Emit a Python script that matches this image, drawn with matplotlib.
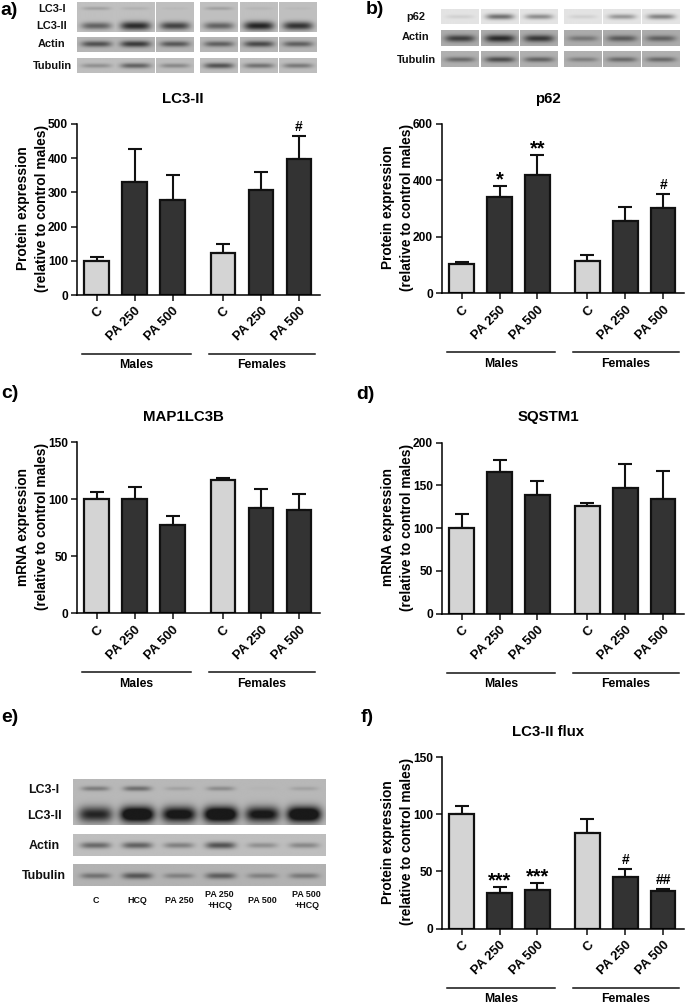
import matplotlib
matplotlib.use('Agg')
import matplotlib.pyplot as plt
import numpy as np

plt.rcParams['font.family'] = ['Liberation Sans', 'DejaVu Sans']
plt.rcParams['font.weight'] = 'bold'

W, H = 685, 1005

# bar data
bar_labels = ['C', 'PA 250', 'PA 500', 'C', 'PA 250', 'PA 500']

lc3_vals = [100, 330, 278, 124, 306, 398]
lc3_tops = [112, 426, 351, 150, 360, 464]
p62_vals = [102, 340, 417, 115, 257, 303]
p62_tops = [110, 380, 489, 135, 305, 351]
map_vals = [100, 100, 77.5, 117, 92, 91]
map_tops = [106.5, 111, 85, 119, 109, 105]
sqs_vals = [100, 166, 139, 126, 147, 134]
sqs_tops = [117, 180, 155, 129, 175, 167]
flux_vals = [100, 31, 34, 84, 45, 33]
flux_tops = [107, 36, 40, 96, 52.5, 34.5]

# band strengths per lane (0 = nothing, 1 = darkest)
a_lc3i = [.2, .1, .05, .2, .07, .05]
a_lc3ii = [.6, .95, .8, .6, 1, .9]
a_actin = [.7, .85, .65, .6, .75, .6]
a_tub = [.3, .6, .35, .7, .5, .45]
b_p62 = [.1, .6, .45, .1, .4, .5]
b_actin = [.8, .95, .85, .4, .6, .55]
b_tub = [.5, .7, .55, .35, .5, .5]
e_lc3i = [.4, .5, .15, .3, .03, .15]
e_lc3ii = [1, 1.6, 1.3, 1.6, 1.2, 1.6]
e_actin = [.55, .6, .4, .7, .3, .35]
e_tub = [.45, .65, .35, .6, .35, .4]

fig = plt.figure(figsize=(W / 100, H / 100), dpi=100, facecolor='white')

# full figure axes in pixel coordinates, for blots and loose text
bg = fig.add_axes([0, 0, 1, 1])
bg.axis('off')


def strip(x0, x1, y0, y1, gray, bands):
    # bands: (centre x, centre y, half width, half height, strength)
    xs = np.linspace(x0, x1, int((x1 - x0) * 2))
    ys = np.linspace(y0, y1, int((y1 - y0) * 2))
    xx, yy = np.meshgrid(xs, ys)
    img = np.full(xx.shape, float(gray))
    for cx, cy, wx, wy, s in bands:
        wy = wy * (0.6 + 0.5 * min(s, 1))
        mask = np.exp(-((xx - cx) / wx) ** 4) * np.exp(-((yy - cy) / wy) ** 2)
        img -= mask * s * (gray - 35)
    img = np.clip(img, 25, 255)
    bg.imshow(img, extent=(x0, x1, y1, y0), cmap='gray', vmin=0, vmax=255,
              aspect='auto', interpolation='bilinear')


# a) blots
a_lanes = [(76.7, 115), (116, 154.3), (155.7, 193.7), (200.3, 238.3), (239.7, 277.3), (278.7, 316.7)]
for i, (x0, x1) in enumerate(a_lanes):
    c = (x0 + x1) / 2
    strip(x0, x1, 2, 32, 192, [(c, 8.3, 14, 2.5, a_lc3i[i]), (c, 26, 15, 4, a_lc3ii[i])])
    strip(x0, x1, 37, 52, 182, [(c, 44, 15, 3.2, a_actin[i])])
    strip(x0, x1, 58, 73, 190, [(c, 65.7, 15, 3, a_tub[i])])

# b) blots
b_lanes = [(441.3, 479), (480.7, 518.3), (520, 557.7), (564, 601.7), (603, 640.7), (642.3, 680)]
for i, (x0, x1) in enumerate(b_lanes):
    c = (x0 + x1) / 2
    strip(x0, x1, 9, 24, 228, [(c, 16.7, 14, 3.2, b_p62[i])])
    strip(x0, x1, 30, 45.7, 172, [(c, 38.3, 15, 3.5, b_actin[i])])
    strip(x0, x1, 51.7, 67.3, 176, [(c, 60, 15, 3, b_tub[i])])

# e) blot, one long strip
e_lanes = [95, 136.7, 178.3, 220, 261.7, 303.3]
strip(72.7, 325, 780, 825.3, 184,
      [(c, 789.3, 14, 3, s) for c, s in zip(e_lanes, e_lc3i)] +
      [(c, 815, 17, 7, s) for c, s in zip(e_lanes, e_lc3ii)])
strip(72.7, 325, 834.7, 856, 190, [(c, 845.7, 15, 3.5, s) for c, s in zip(e_lanes, e_actin)])
strip(72.7, 325, 864.3, 886, 178, [(c, 876, 15, 3.5, s) for c, s in zip(e_lanes, e_tub)])

bg.set_xlim(0, W)
bg.set_ylim(H, 0)

# blot labels
for x, y, s in [(52, 8.7, 'LC3-I'), (52, 26, 'LC3-II'), (52, 44, 'Actin'), (52, 65.7, 'Tubulin'),
                (415.7, 17, 'p62'), (416, 37, 'Actin'), (416, 60, 'Tubulin')]:
    bg.text(x, y, s, fontsize=7.9, ha='center', va='center', color='#111111')
for x, y, s in [(44, 790, 'LC3-I'), (44, 816, 'LC3-II'), (44, 845.7, 'Actin'), (44, 875.7, 'Tubulin')]:
    bg.text(x, y, s, fontsize=8.9, ha='center', va='center', color='#111111')
for x, s in [(95.7, 'C'), (137.7, 'HCQ'), (179, 'PA 250'), (219.7, 'PA 250\n+HCQ'),
             (262.3, 'PA 500'), (306.7, 'PA 500\n+HCQ')]:
    bg.text(x, 900, s, fontsize=6.4, ha='center', va='center', color='#111111')

# panel letters
for x, y, s in [(0, 10, 'a)'), (366, 9, 'b)'), (1, 393, 'c)'), (356, 394, 'd)'),
                (1, 717, 'e)'), (361, 717, 'f)')]:
    bg.text(x, y, s, fontsize=14, ha='left', va='center', color='black')


def panel(left, right, y0, ytop, ymax, yticks, vals, tops, title, title_xy, ylabel, marks=()):
    ax = fig.add_axes([left / W, 1 - y0 / H, (right - left) / W, (y0 - ytop) / H])
    ax.patch.set_alpha(0)
    x = np.array([0, 1, 2, 3.32, 4.32, 5.32])
    colors = ['#d4d4d4', '#333333', '#333333'] * 2
    vals = np.array(vals, dtype=float)
    tops = np.array(tops, dtype=float)
    ax.errorbar(x, vals, yerr=[np.zeros(6), tops - vals], fmt='none', ecolor='#111111',
                elinewidth=1.5, capsize=5.2, capthick=1.5, zorder=1, clip_on=False)
    ax.bar(x, vals, width=0.65, color=colors, edgecolor='#111111', linewidth=1.6, zorder=2)
    ax.set_xlim(-0.52, 5.87)
    ax.set_ylim(0, ymax)
    ax.set_yticks(yticks)
    ax.set_xticks(x)
    ax.set_xticklabels(bar_labels, rotation=45, ha='right', rotation_mode='anchor', fontsize=9.4)
    ax.tick_params(axis='y', length=4.5, width=1.1, labelsize=8.6, pad=2, color='#111111')
    ax.tick_params(axis='x', length=4.5, width=1.1, pad=3, color='#111111')
    ax.spines['top'].set_visible(False)
    ax.spines['right'].set_visible(False)
    ax.spines['left'].set_linewidth(1.1)
    ax.spines['bottom'].set_linewidth(1.1)

    # group lines below the axis
    trans = ax.get_xaxis_transform()
    ly = -59 / (y0 - ytop)
    ty = -70.5 / (y0 - ytop)
    for x0, x1, name in [(-0.38, 2.47, 'Males'), (2.94, 5.74, 'Females')]:
        ax.plot([x0, x1], [ly, ly], color='#111111', lw=1.1, transform=trans, clip_on=False)
        ax.text((x0 + x1) / 2, ty, name, fontsize=8.8, ha='center', va='center', transform=trans)

    for i, s in marks:
        if '*' in s:
            off, size = 0.5, 14.5
        else:
            off, size = 3.5, 10
        ax.annotate(s, (x[i], tops[i]), xytext=(0, off), textcoords='offset points',
                    ha='center', va='baseline', fontsize=size, annotation_clip=False)

    bg.text(title_xy[0], title_xy[1], title, fontsize=10.8, ha='center', va='center')
    bg.text(left - 44.5, (y0 + ytop) / 2 - 1, ylabel, fontsize=9.9, rotation=90,
            ha='center', va='center', multialignment='center', linespacing=1.4)
    return ax


prot = 'Protein expression\n(relative to control males)'
mrna = 'mRNA expression\n(relative to control males)'

panel(77, 320, 295, 124, 500, [0, 100, 200, 300, 400, 500], lc3_vals, lc3_tops,
      'LC3-II', (183, 98.7), prot, marks=[(5, '#')])
panel(442, 684, 293.3, 123.7, 600, [0, 200, 400, 600], p62_vals, p62_tops,
      'p62', (548, 99), prot, marks=[(1, '*'), (2, '**'), (5, '#')])
panel(77, 320, 613.3, 442.3, 150, [0, 50, 100, 150], map_vals, map_tops,
      'MAP1LC3B', (183, 417), mrna)
panel(442, 684, 613.7, 442.7, 200, [0, 50, 100, 150, 200], sqs_vals, sqs_tops,
      'SQSTM1', (548, 417), mrna)
panel(442, 684, 928.7, 757, 150, [0, 50, 100, 150], flux_vals, flux_tops,
      'LC3-II flux', (548, 731.7), prot,
      marks=[(1, '***'), (2, '***'), (4, '#'), (5, '##')])

plt.savefig('out.png', dpi=100)
